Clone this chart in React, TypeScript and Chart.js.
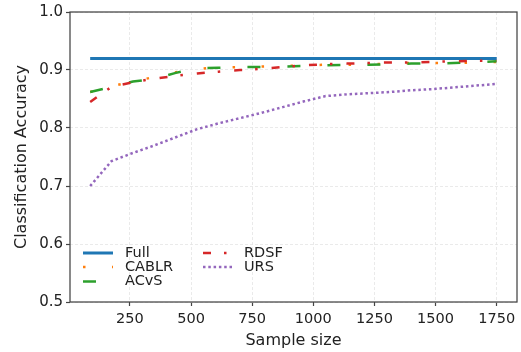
import React, { useEffect, useRef } from "react";
import { Chart, registerables } from "chart.js";

Chart.register(...registerables);

const sampleSizes = [87.5, 175, 262.5, 350, 437.5, 525, 612.5, 700, 787.5, 875, 962.5, 1050, 1137.5, 1225, 1312.5, 1400, 1487.5, 1575, 1662.5, 1750];
const fullAcc = [0.92, 0.92, 0.92, 0.92, 0.92, 0.92, 0.92, 0.92, 0.92, 0.92, 0.92, 0.92, 0.92, 0.92, 0.92, 0.92, 0.92, 0.92, 0.92, 0.92];
const cablrAcc = [0.862, 0.872, 0.880, 0.888, 0.896, 0.902, 0.904, 0.905, 0.906, 0.907, 0.908, 0.909, 0.909, 0.910, 0.911, 0.912, 0.912, 0.912, 0.913, 0.914];
const acvsAcc = [0.862, 0.871, 0.880, 0.885, 0.895, 0.903, 0.904, 0.905, 0.905, 0.906, 0.907, 0.908, 0.909, 0.909, 0.910, 0.911, 0.911, 0.912, 0.913, 0.915];
const rdsfAcc = [0.845, 0.871, 0.879, 0.885, 0.890, 0.894, 0.897, 0.900, 0.902, 0.905, 0.908, 0.910, 0.911, 0.912, 0.913, 0.913, 0.914, 0.915, 0.916, 0.916];
const ursAcc = [0.700, 0.743, 0.757, 0.770, 0.784, 0.798, 0.808, 0.817, 0.826, 0.836, 0.846, 0.855, 0.858, 0.860, 0.862, 0.865, 0.867, 0.870, 0.873, 0.876];

const xTicks = [250, 500, 750, 1000, 1250, 1500, 1750];
const yTicks = [0.5, 0.6, 0.7, 0.8, 0.9, 1.0];

const FONT = "'DejaVu Sans', sans-serif";

const seriesDefs = [
  { label: "Full", data: fullAcc, color: "#1f77b4", width: 3, dash: [] as number[] },
  { label: "CABLR", data: cablrAcc, color: "#ff7f0e", width: 2.5, dash: [2.5, 26.5] },
  { label: "ACvS", data: acvsAcc, color: "#2ca02c", width: 2.5, dash: [13, 27] },
  { label: "RDSF", data: rdsfAcc, color: "#d62728", width: 2.5, dash: [8, 13, 2.5, 14] },
  { label: "URS", data: ursAcc, color: "#9467bd", width: 2.5, dash: [2.5, 2.8] },
];

const legendPlugin = {
  id: "customLegend",
  afterDraw(chart: any) {
    const ctx = chart.ctx;
    const area = chart.chartArea;
    ctx.save();
    ctx.strokeStyle = "#444";
    ctx.lineWidth = 1.25;
    ctx.setLineDash([]);
    ctx.strokeRect(area.left, area.top, area.right - area.left, area.bottom - area.top);
    const cols = [
      { lineX: 83, textX: 125, items: [0, 1, 2] },
      { lineX: 203, textX: 244, items: [3, 4] },
    ];
    const rowY = [253, 267, 281.5];
    ctx.font = `14.5px ${FONT}`;
    ctx.textBaseline = "middle";
    ctx.textAlign = "left";
    cols.forEach((col) => {
      col.items.forEach((idx, r) => {
        const s = seriesDefs[idx];
        const y = rowY[r];
        ctx.strokeStyle = s.color;
        ctx.lineWidth = s.width;
        ctx.setLineDash(s.dash);
        ctx.beginPath();
        ctx.moveTo(col.lineX, y);
        ctx.lineTo(col.lineX + 30, y);
        ctx.stroke();
        ctx.setLineDash([]);
        ctx.fillStyle = "#222";
        ctx.fillText(s.label, col.textX, y);
      });
    });
    ctx.restore();
  },
};

export default function App() {
  const canvasRef = useRef<HTMLCanvasElement | null>(null);

  useEffect(() => {
    const canvas = canvasRef.current;
    if (!canvas) return;
    const datasets = seriesDefs.map((s, i) => ({
      label: s.label,
      data: sampleSizes.map((x, j) => ({ x, y: s.data[j] })),
      borderColor: s.color,
      backgroundColor: s.color,
      borderWidth: s.width,
      borderDash: s.dash,
      pointRadius: 0,
      fill: false,
      tension: 0,
      order: seriesDefs.length - i,
      borderCapStyle: "butt" as const,
    }));

    const chart = new Chart(canvas, {
      type: "line",
      data: { datasets },
      options: {
        animation: false,
        responsive: false,
        maintainAspectRatio: false,
        layout: { padding: { left: 0, top: 12, right: 4, bottom: 0 } },
        plugins: {
          legend: { display: false },
          tooltip: { enabled: false },
        },
        scales: {
          x: {
            type: "linear",
            min: 5,
            max: 1833,
            afterBuildTicks: (scale: any) => {
              scale.ticks = xTicks.map((v) => ({ value: v }));
            },
            afterFit: (scale: any) => {
              scale.height = 50;
            },
            ticks: {
              font: { family: FONT, size: 14.5 },
              color: "#222",
              padding: 5,
              maxRotation: 0,
              autoSkip: false,
              callback: (v: any) => String(v),
            },
            grid: {
              color: "#e4e4e4",
              lineWidth: 0.8,
              tickLength: 4,
              tickColor: "#444",
              tickWidth: 1.2,
            },
            border: { display: false, dash: [3, 2] },
            title: {
              display: true,
              text: "Sample size",
              font: { family: FONT, size: 16 },
              color: "#222",
              padding: { top: 0, bottom: 2 },
            },
          },
          y: {
            type: "linear",
            min: 0.5,
            max: 1.0,
            afterBuildTicks: (scale: any) => {
              scale.ticks = yTicks.map((v) => ({ value: v }));
            },
            afterFit: (scale: any) => {
              scale.width = 70;
            },
            ticks: {
              font: { family: FONT, size: 15 },
              color: "#222",
              padding: 3,
              autoSkip: false,
              callback: (v: any) => Number(v).toFixed(1),
            },
            grid: {
              color: "#e4e4e4",
              lineWidth: 0.8,
              tickLength: 4,
              tickColor: "#444",
              tickWidth: 1.2,
            },
            border: { display: false, dash: [3, 2] },
            title: {
              display: true,
              text: "Classification Accuracy",
              font: { family: FONT, size: 16 },
              color: "#222",
              padding: { top: 12, bottom: 0 },
            },
          },
        },
      },
      plugins: [legendPlugin],
    } as any);

    return () => {
      chart.destroy();
    };
  }, []);

  return (
    <div style={{ position: "fixed", left: 0, top: 0, width: 521, height: 352, background: "#fff" }}>
      <canvas ref={canvasRef} width={521} height={352} style={{ display: "block", width: 521, height: 352 }} />
    </div>
  );
}
